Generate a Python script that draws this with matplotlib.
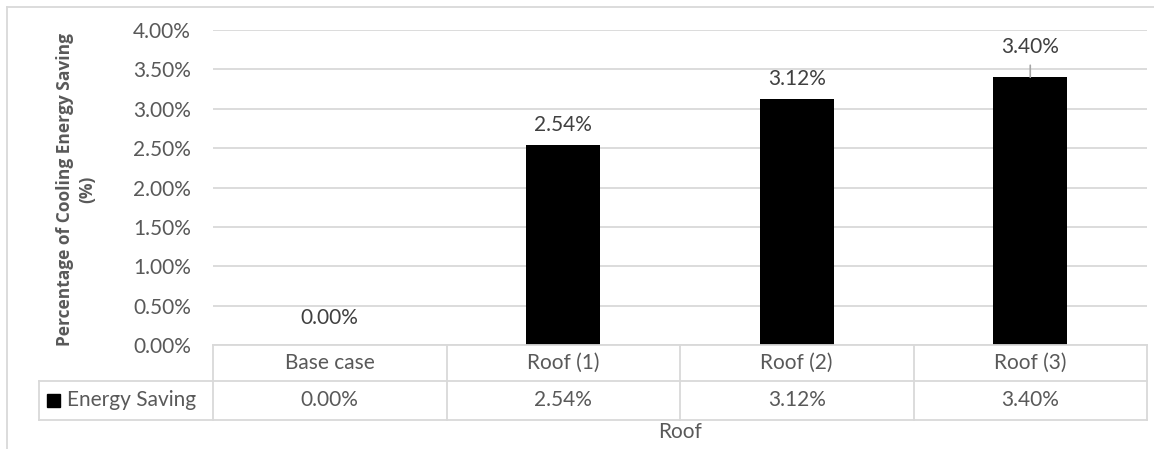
import matplotlib.pyplot as plt
import matplotlib.transforms as mtransforms
from matplotlib.patches import Rectangle
from matplotlib.lines import Line2D

plt.rcParams["font.family"] = ["Lato", "DejaVu Sans"]

categories = ["Base case", "Roof (1)", "Roof (2)", "Roof (3)"]
energy_saving = [0.0, 2.54, 3.12, 3.40]
series_name = "Energy Saving"
y_ticks = [0.0, 0.5, 1.0, 1.5, 2.0, 2.5, 3.0, 3.5, 4.0]

W, H = 1154, 449
TXT = "#595959"
LBL = "#404040"
GRID = "#d9d9d9"
FS = 15
PX = 72 / 100  # points per pixel at dpi 100

fig = plt.figure(figsize=(W / 100, H / 100), dpi=100)

# plot area in pixel terms
left, right, top, bottom = 213, 1147, 30, 345
ax = fig.add_axes([left / W, 1 - bottom / H, (right - left) / W, (bottom - top) / H])
x = list(range(len(categories)))
ax.bar(x, energy_saving, width=0.317, color="black", zorder=3)
ax.set_xlim(-0.5, len(categories) - 0.5)
ax.set_ylim(0, 4.0)
ax.set_yticks(y_ticks)
ax.set_yticklabels([f"{v:.2f}%" for v in y_ticks], fontsize=FS, color=TXT)
ax.tick_params(axis="y", length=0, pad=22 * PX)
ax.set_xticks([])
ax.grid(axis="y", color=GRID, linewidth=1.3, zorder=0)
for s in ax.spines.values():
    s.set_visible(False)

# data labels (offsets in pixels above bar top)
for xi, v in zip(x, energy_saving):
    if v >= 3.3:
        off = 30
        ax.annotate("", xy=(xi, v), xytext=(0, 12 * PX), textcoords="offset points",
                    arrowprops=dict(arrowstyle="-", color="#a6a6a6", lw=1.2,
                                    shrinkA=0, shrinkB=0))
    elif v > 0:
        off = 20
    else:
        off = 27
    ax.annotate(f"{v:.2f}%", xy=(xi, v), xytext=(0, off * PX), textcoords="offset points",
                ha="center", va="center", fontsize=FS, color=LBL)

# data table below the plot area: x in data coords, y in pixel rows
trans = mtransforms.blended_transform_factory(ax.transData, fig.transFigure)
ftrans = fig.transFigure


def fy(py):
    return 1 - py / H


row1_top, row1_bot, row2_bot = 345, 381, 420
table_left = 39
lw = 1.3
for px in [left, 447, 680, 914, right]:
    fig.add_artist(Line2D([px / W, px / W], [fy(row1_top), fy(row2_bot)], color=GRID, lw=lw))
fig.add_artist(Line2D([table_left / W, table_left / W], [fy(row1_bot), fy(row2_bot)], color=GRID, lw=lw))
fig.add_artist(Line2D([left / W, right / W], [fy(row1_top), fy(row1_top)], color=GRID, lw=lw))
for py in [row1_bot, row2_bot]:
    fig.add_artist(Line2D([table_left / W, right / W], [fy(py), fy(py)], color=GRID, lw=lw))

for xi, cat, v in zip(x, categories, energy_saving):
    ax.text(xi, fy((row1_top + row1_bot) / 2), cat, transform=trans, ha="center", va="center",
            fontsize=FS, color=TXT)
    ax.text(xi, fy((row1_bot + row2_bot) / 2), f"{v:.2f}%", transform=trans, ha="center",
            va="center", fontsize=FS, color=TXT)

# legend key in the table
fig.add_artist(Rectangle((47 / W, fy(407)), 13 / W, 13 / H, color="black", transform=ftrans))
fig.text(67 / W, fy((row1_bot + row2_bot) / 2), series_name, ha="left", va="center",
         fontsize=FS, color=TXT)

# axis titles
fig.text(680 / W, fy(432), "Roof", ha="center", va="center", fontsize=FS, color=TXT)
fig.text(76 / W, fy(189), "Percentage of Cooling Energy Saving\n(%)", rotation=90,
         ha="center", va="center", fontsize=12.5, fontweight="bold", color=TXT,
         linespacing=1.25, family=["Open Sans", "DejaVu Sans"])

# chart frame (left and top edges visible)
fig.add_artist(Line2D([7 / W, 7 / W], [0, fy(7)], color=GRID, lw=lw))
fig.add_artist(Line2D([7 / W, 1], [fy(7), fy(7)], color=GRID, lw=lw))

fig.savefig("out.png", dpi=100)
